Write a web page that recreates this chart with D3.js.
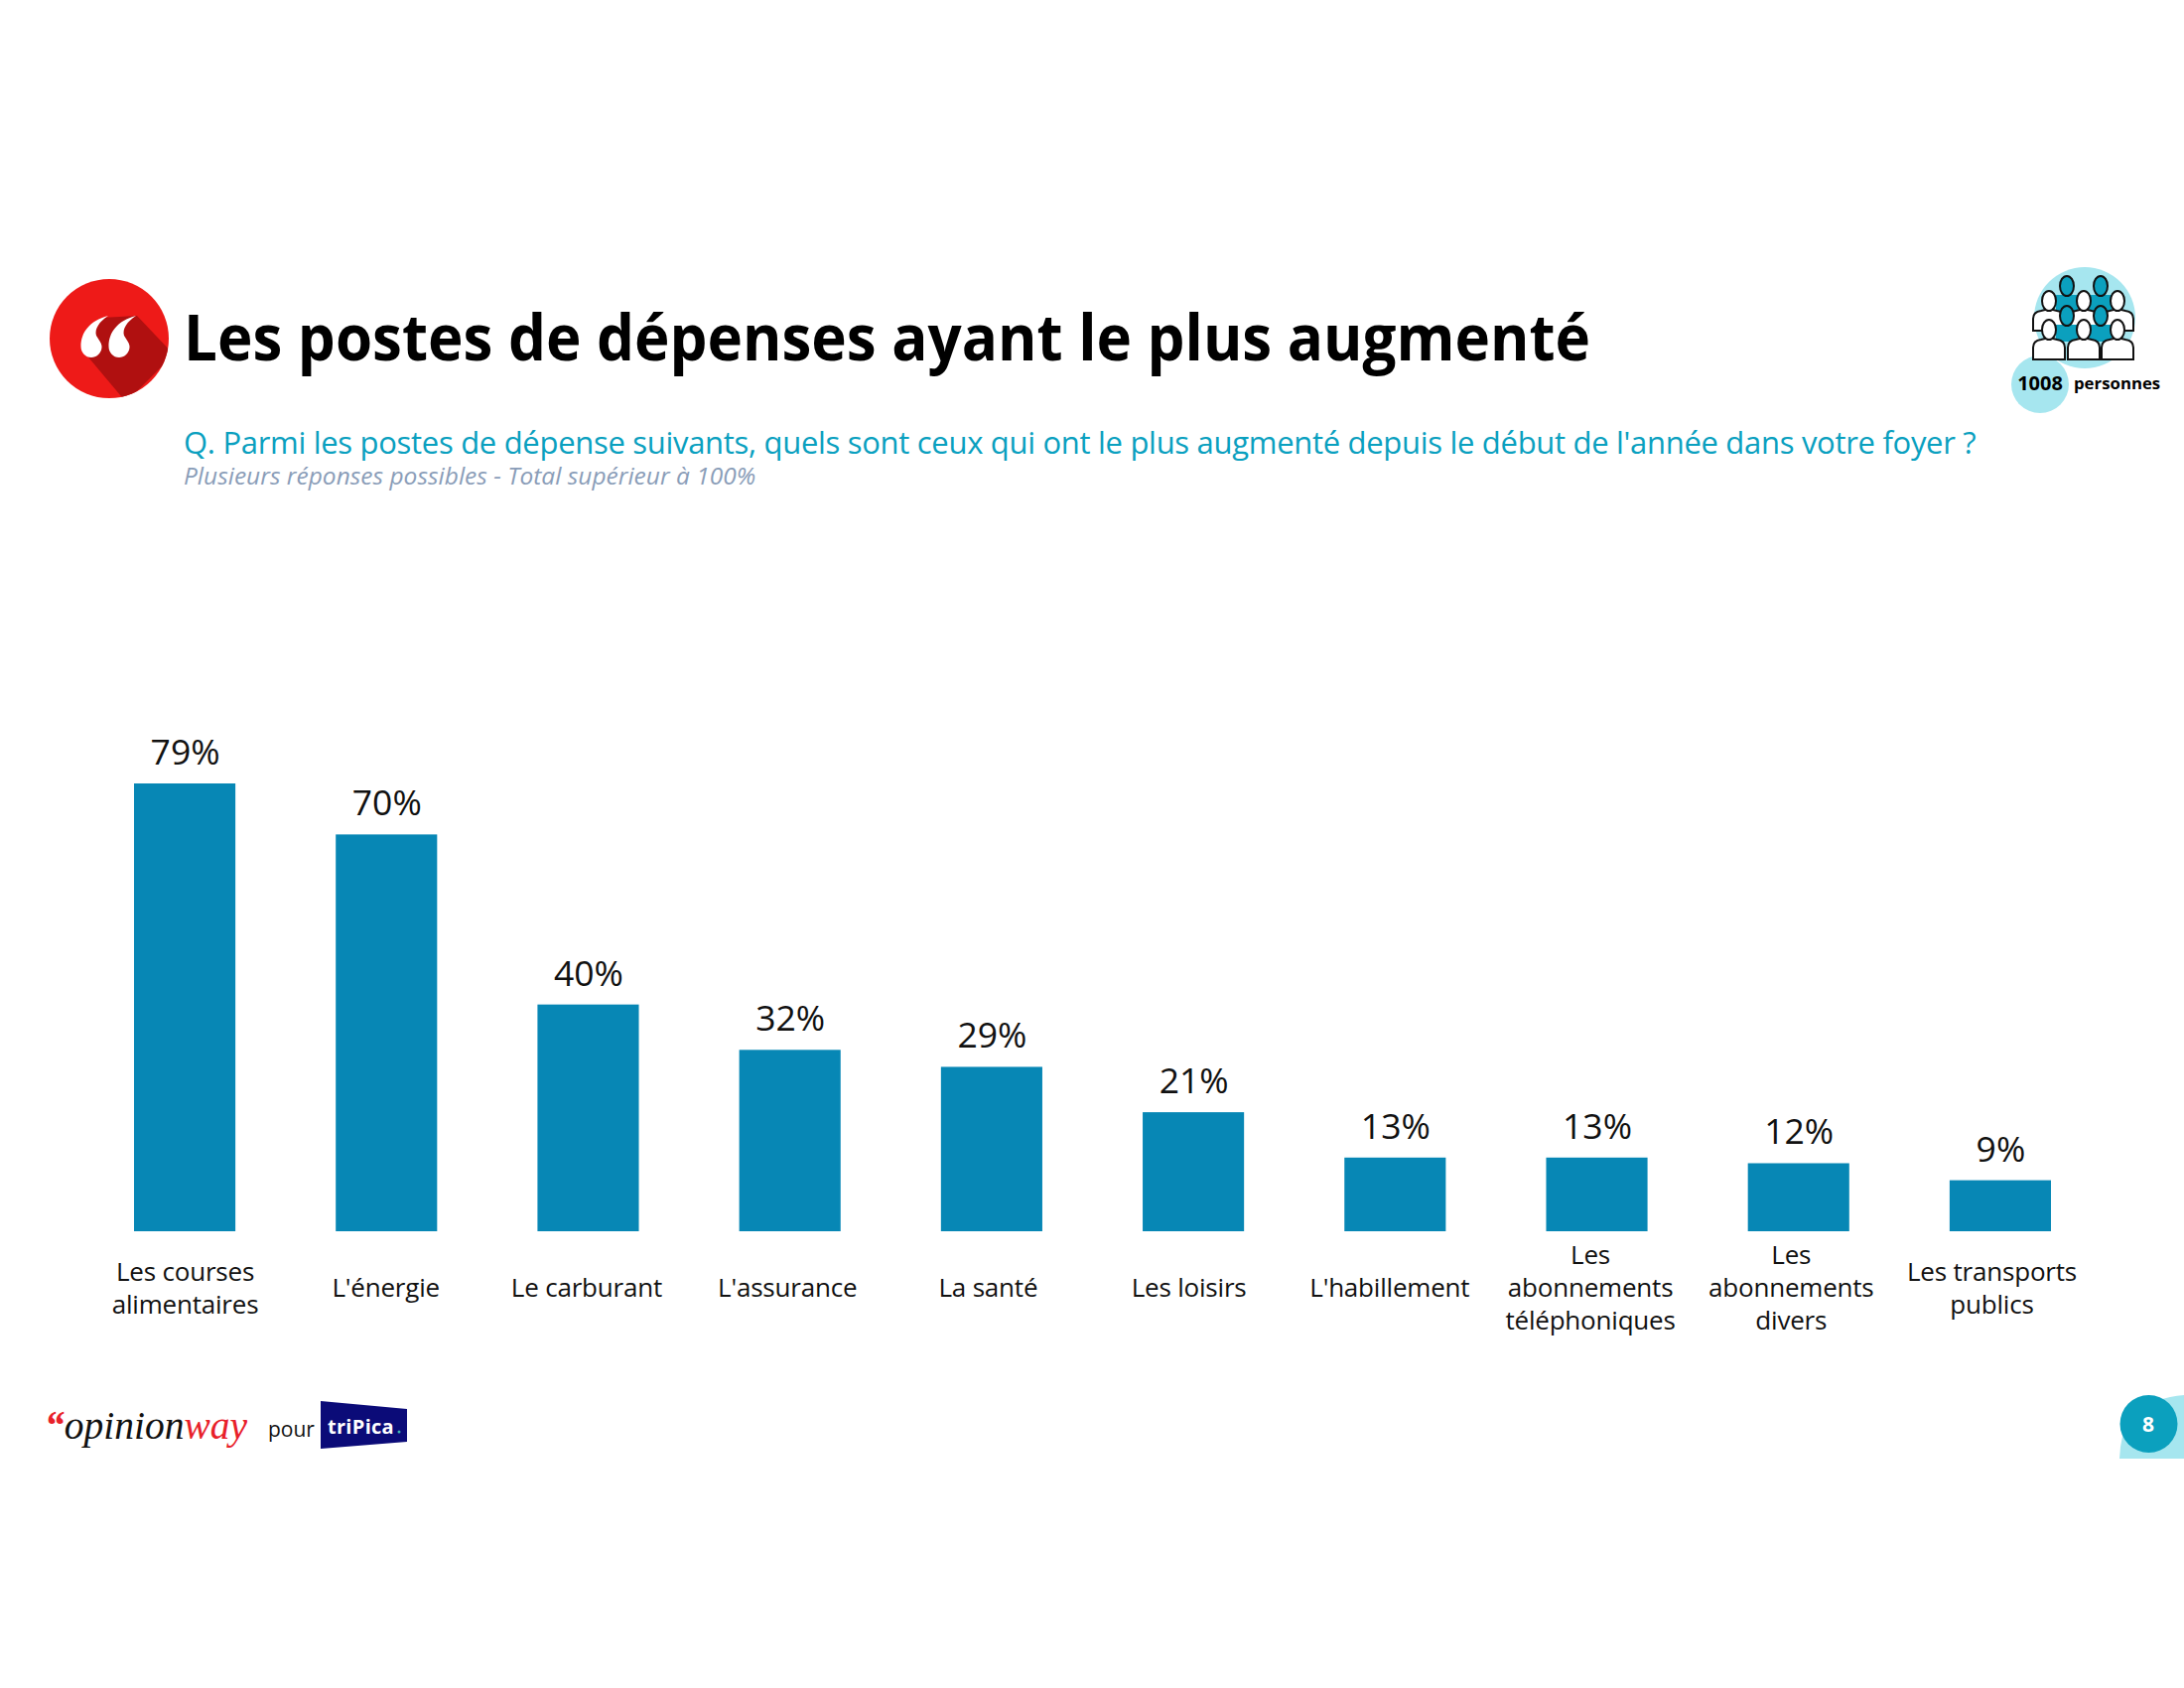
<!DOCTYPE html>
<html>
<head>
<meta charset="utf-8">
<script src="https://cdn.jsdelivr.net/npm/d3@7"></script>
<style>
  html, body { margin: 0; padding: 0; background: #fff; }
  svg { display: block; }
  text { font-family: "Open Sans", "Noto Sans", sans-serif; }
</style>
</head>
<body>
<div class="chart"></div>
<script>
var categories = ["Les courses\nalimentaires", "L'énergie", "Le carburant", "L'assurance", "La santé",
  "Les loisirs", "L'habillement", "Les\nabonnements\ntéléphoniques", "Les\nabonnements\ndivers", "Les transports\npublics"];
var values = [79, 70, 40, 32, 29, 21, 13, 13, 12, 9];

var titleText = "Les postes de dépenses ayant le plus augmenté";
var questionText = "Q. Parmi les postes de dépense suivants, quels sont ceux qui ont le plus augmenté depuis le début de l'année dans votre foyer ?";
var noteText = "Plusieurs réponses possibles - Total supérieur à 100%";

var width = 2200, height = 1700;
var svg = d3.select(".chart").append("svg").attr("width", width).attr("height", height);

// bars
var x = d3.scaleBand().domain(categories).range([135, 2066]).paddingInner(0.4975);
var y = d3.scaleLinear().domain([0, 79]).range([1240, 789]);

svg.append("g").selectAll("rect")
    .data(values).enter()
    .append("rect")
    .attr("x", function(d, i){ return x(categories[i]); })
    .attr("y", function(d){ return y(d); })
    .attr("width", x.bandwidth())
    .attr("height", function(d){ return y(0) - y(d); })
    .style("fill", "#0787b5");

svg.append("g").selectAll("text")
    .data(values).enter()
    .append("text")
    .attr("x", function(d, i){ return x(categories[i]) + x.bandwidth() / 2 + 0.5; })
    .attr("y", function(d){ return y(d) - 19; })
    .attr("text-anchor", "middle")
    .style("font-size", "35.5px")
    .style("fill", "#111")
    .text(function(d){ return d + "%"; });

// the labels sit on a slightly tighter step than the bars
var xLabels = d3.scalePoint().domain(categories).range([186, 2006]);
var axis = svg.append("g")
    .attr("transform", "translate(0,1240)")
    .call(d3.axisBottom(xLabels).tickSize(0).tickFormat(""));
axis.select(".domain").remove();
axis.selectAll(".tick text").remove();
axis.selectAll(".tick").append("text")
    .attr("text-anchor", "middle")
    .style("font-size", "26px")
    .style("letter-spacing", "-0.2px")
    .style("fill", "#111")
    .each(function(d) {
      var lines = d.split("\n");
      d3.select(this).selectAll("tspan")
          .data(lines).enter()
          .append("tspan")
          .attr("x", 0)
          .attr("y", function(l, i){ return 66 + (i - (lines.length - 1) / 2) * 33; })
          .text(function(l){ return l; });
    });

// header
svg.append("text").attr("x", 185).attr("y", 363)
    .attr("textLength", 1417).attr("lengthAdjust", "spacingAndGlyphs")
    .style("font-size", "64px").style("font-weight", 700).style("fill", "#000")
    .text(titleText);
svg.append("text").attr("x", 185).attr("y", 457)
    .style("font-size", "31px").style("letter-spacing", "-0.3px").style("fill", "#0aa0bf")
    .text(questionText);
svg.append("text").attr("x", 185).attr("y", 488)
    .style("font-size", "24.5px").style("font-style", "italic").style("fill", "#8a9db8")
    .text(noteText);

// red quote badge
var badge = svg.append("g");
badge.append("clipPath").attr("id", "badgeClip").append("circle").attr("cx", 110).attr("cy", 341).attr("r", 60);
badge.append("circle").attr("cx", 110).attr("cy", 341).attr("r", 60).style("fill", "#ee1a18");
badge.append("path").attr("clip-path", "url(#badgeClip)")
    .attr("d", "M103,320 L138,318 L175,357 L127,405 L85,355 Z").style("fill", "#b01010");
[92, 120].forEach(function(cx) {
  badge.append("path")
      .attr("transform", "translate(" + cx + ",349)")
      .attr("d", "M-10.5,0 C-10.5,-14 -2,-26 17,-31 C8,-25 3,-18 5,-11 C8,-6 11,-3 10.5,1 C10,7 5,11 0,11 C-6,11 -10.5,6 -10.5,0 Z")
      .style("fill", "#fff");
});

// respondents icon, top right
var icon = svg.append("g");
icon.append("circle").attr("cx", 2100).attr("cy", 320).attr("r", 51).style("fill", "#a6e6ef");
icon.append("circle").attr("cx", 2055).attr("cy", 387).attr("r", 29).style("fill", "#a6e6ef");
var people = [
  {c: "#0ba0be", y: 288, xs: [2082, 2116]},
  {c: "#fff", y: 303, xs: [2064, 2099, 2133]},
  {c: "#0ba0be", y: 318, xs: [2082, 2116]},
  {c: "#fff", y: 332, xs: [2064, 2099, 2133]}
];
people.forEach(function(row) {
  row.xs.forEach(function(px) {
    if (row.c == "#fff") {
      icon.append("path")
          .attr("d", "M" + (px - 16) + "," + (row.y + 30) + " v-12 q0,-7 8,-8 l8,-2 l8,2 q8,1 8,8 v12 Z")
          .style("fill", row.c).style("stroke", "#111").style("stroke-width", 2);
    } else {
      icon.append("rect").attr("x", px - 11).attr("y", row.y + 9).attr("width", 22).attr("height", 17)
          .style("fill", row.c);
    }
    icon.append("ellipse").attr("cx", px).attr("cy", row.y).attr("rx", 7).attr("ry", 10)
        .style("fill", row.c).style("stroke", "#111").style("stroke-width", 2);
  });
});
svg.append("text").attr("x", 2055).attr("y", 393).attr("text-anchor", "middle")
    .style("font-size", "20px").style("font-weight", 700).style("fill", "#000").text("1008");
svg.append("text").attr("x", 2089).attr("y", 392)
    .style("font-size", "16.8px").style("font-weight", 700).style("fill", "#000").text("personnes");

// footer logos
var logo = svg.append("text").attr("x", 45).attr("y", 1449)
    .style("font-family", "'Liberation Serif', serif").style("font-style", "italic").style("font-size", "39.5px");
logo.append("tspan").style("fill", "#e8212a").style("font-weight", 700).text("“");
logo.append("tspan").style("fill", "#111").text("opinion");
logo.append("tspan").style("fill", "#e8212a").text("way");

svg.append("text").attr("x", 270).attr("y", 1447)
    .style("font-size", "21px").style("fill", "#111").text("pour");
svg.append("path").attr("d", "M323,1411 L410,1419 L410,1452 L323,1459 Z").style("fill", "#0b0b78");
svg.append("text").attr("x", 330).attr("y", 1444)
    .style("font-size", "20px").style("font-weight", 700).style("letter-spacing", "0.3px").style("fill", "#fff").text("triPica");
svg.append("circle").attr("cx", 402).attr("cy", 1442).attr("r", 1.5).style("fill", "#3fb8b0");

// page number
svg.append("path").attr("d", "M2135,1469 Q2137,1419 2172,1411 Q2186,1406 2200,1405 V1469 Z").style("fill", "#a6e6ef");
svg.append("circle").attr("cx", 2164.5).attr("cy", 1434).attr("r", 29).style("fill", "#0ba0be");
svg.append("text").attr("x", 2164).attr("y", 1442).attr("text-anchor", "middle")
    .style("font-size", "21px").style("font-weight", 700).style("fill", "#fff").text("8");
</script>
</body>
</html>
